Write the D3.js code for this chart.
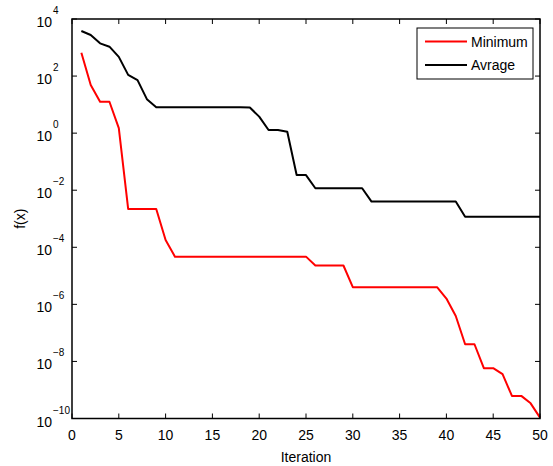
<!DOCTYPE html>
<html>
<head>
<meta charset="utf-8">
<script src="https://cdn.jsdelivr.net/npm/d3@7/dist/d3.min.js"></script>
<style>
    body { margin: 0; background: #fff; }
    svg { display: block; font-family: "Liberation Sans", Arial, sans-serif; }
    .line { fill: none; stroke-width: 2; stroke-linejoin: round; }
</style>
</head>
<body>
<svg id="chart" width="553" height="466"></svg>
<script>
const iterations = [1, 2, 3, 4, 5, 6, 7, 8, 9, 10,
    11, 12, 13, 14, 15, 16, 17, 18, 19, 20,
    21, 22, 23, 24, 25, 26, 27, 28, 29, 30,
    31, 32, 33, 34, 35, 36, 37, 38, 39, 40,
    41, 42, 43, 44, 45, 46, 47, 48, 49, 50];

const minimum = [660, 49, 12.6, 12.6, 1.5, 2.2e-3, 2.2e-3, 2.2e-3, 2.2e-3, 1.8e-4,
    4.7e-5, 4.7e-5, 4.7e-5, 4.7e-5, 4.7e-5, 4.7e-5, 4.7e-5, 4.7e-5, 4.7e-5, 4.7e-5,
    4.7e-5, 4.7e-5, 4.7e-5, 4.7e-5, 4.7e-5, 2.3e-5, 2.3e-5, 2.3e-5, 2.3e-5, 4.0e-6,
    4.0e-6, 4.0e-6, 4.0e-6, 4.0e-6, 4.0e-6, 4.0e-6, 4.0e-6, 4.0e-6, 4.0e-6, 1.6e-6,
    3.9e-7, 4.0e-8, 4.0e-8, 5.8e-9, 5.8e-9, 3.6e-9, 6.2e-10, 6.2e-10, 3.4e-10, 1.07e-10];

const average = [3800, 2750, 1400, 1070, 470, 110, 72, 15.5, 8.1, 8.1,
    8.1, 8.1, 8.1, 8.1, 8.1, 8.1, 8.1, 8.1, 7.9, 3.8,
    1.29, 1.29, 1.12, 3.4e-2, 3.4e-2, 1.17e-2, 1.17e-2, 1.17e-2, 1.17e-2, 1.17e-2,
    1.17e-2, 4.0e-3, 4.0e-3, 4.0e-3, 4.0e-3, 4.0e-3, 4.0e-3, 4.0e-3, 4.0e-3, 4.0e-3,
    4.0e-3, 1.17e-3, 1.17e-3, 1.17e-3, 1.17e-3, 1.17e-3, 1.17e-3, 1.17e-3, 1.17e-3, 1.17e-3];

const xTicks = [0, 5, 10, 15, 20, 25, 30, 35, 40, 45, 50];
const yExponents = [-10, -8, -6, -4, -2, 0, 2, 4];

const series = [
    {name: "Minimum", color: "#ff0000", values: minimum},
    {name: "Avrage", color: "#000000", values: average}
];

const margin = {top: 19, right: 13, bottom: 47.5, left: 72};
const svg = d3.select("#chart");
const width = +svg.attr("width") - margin.left - margin.right;
const height = +svg.attr("height") - margin.top - margin.bottom;

const x = d3.scaleLinear().domain([0, 50]).range([0, width]);
const y = d3.scaleLog().domain([1e-10, 1e4]).range([height, 0]);

const g = svg.append("g").attr("transform", "translate(" + margin.left + "," + margin.top + ")");

// lines first, box on top
const line = d3.line()
    .x((d, i) => x(iterations[i]))
    .y((d) => y(d));

series.forEach((s) => {
    g.append("path")
        .datum(s.values)
        .attr("class", "line")
        .attr("stroke", s.color)
        .attr("d", line);
});

// inward ticks on all four sides, MATLAB style
const tickLen = 5;
const tickStyle = (sel) => sel.attr("stroke", "#000").attr("stroke-width", 1);

xTicks.forEach((t) => {
    g.append("line").call(tickStyle)
        .attr("x1", x(t)).attr("x2", x(t)).attr("y1", height).attr("y2", height - tickLen);
    g.append("line").call(tickStyle)
        .attr("x1", x(t)).attr("x2", x(t)).attr("y1", 0).attr("y2", tickLen);
    g.append("text")
        .attr("x", x(t))
        .attr("y", height + 21)
        .attr("text-anchor", "middle")
        .attr("font-size", 14)
        .text(t);
});

yExponents.forEach((e) => {
    const yy = y(Math.pow(10, e));
    g.append("line").call(tickStyle)
        .attr("x1", 0).attr("x2", tickLen).attr("y1", yy).attr("y2", yy);
    g.append("line").call(tickStyle)
        .attr("x1", width).attr("x2", width - tickLen).attr("y1", yy).attr("y2", yy);
    const label = g.append("text")
        .attr("x", -20)
        .attr("y", yy + 8)
        .attr("text-anchor", "end")
        .attr("font-size", 14)
        .text("10");
    g.append("text")
        .attr("x", -19)
        .attr("y", yy - 5)
        .attr("font-size", 10)
        .text(e < 0 ? "\u2212" + Math.abs(e) : e);
});

g.append("rect")
    .attr("width", width)
    .attr("height", height)
    .attr("fill", "none")
    .attr("stroke", "#000")
    .attr("stroke-width", 1.5);

// axis labels
svg.append("text")
    .attr("x", margin.left + width / 2)
    .attr("y", 462)
    .attr("text-anchor", "middle")
    .attr("font-size", 14)
    .text("Iteration");

svg.append("text")
    .attr("transform", "translate(25," + (margin.top + height / 2) + ") rotate(-90)")
    .attr("text-anchor", "middle")
    .attr("font-size", 14)
    .text("f(x)");

// legend
const legend = svg.append("g").attr("transform", "translate(417,28)");
legend.append("rect")
    .attr("width", 116)
    .attr("height", 51)
    .attr("fill", "#fff")
    .attr("stroke", "#000")
    .attr("stroke-width", 1);

series.forEach((s, i) => {
    const ly = 13.5 + i * 23.5;
    legend.append("line")
        .attr("x1", 8).attr("x2", 50)
        .attr("y1", ly).attr("y2", ly)
        .attr("stroke", s.color)
        .attr("stroke-width", 2);
    legend.append("text")
        .attr("x", 54)
        .attr("y", ly + 5)
        .attr("font-size", 14)
        .text(s.name);
});
</script>
</body>
</html>
